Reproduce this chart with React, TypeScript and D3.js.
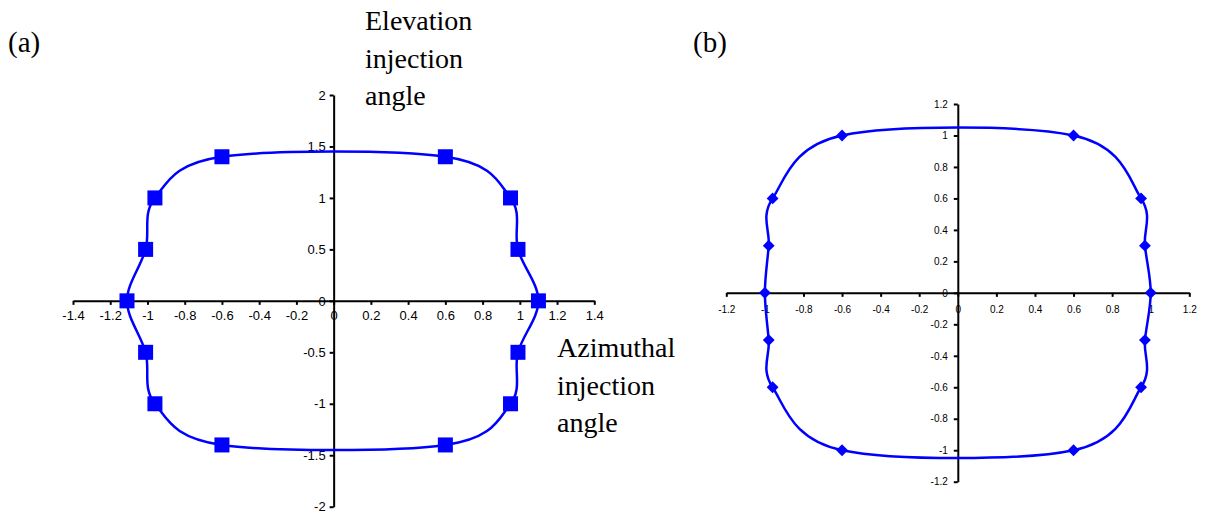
import React, { useEffect, useRef } from "react";
import * as d3 from "d3";

// panel (a): elevation / azimuthal injection angles, square markers
const ticksAx = [-1.4, -1.2, -1, -0.8, -0.6, -0.4, -0.2, 0, 0.2, 0.4, 0.6, 0.8, 1, 1.2, 1.4];
const ticksAy = [-2, -1.5, -1, -0.5, 0, 0.5, 1, 1.5, 2];
const ptsAx = [-0.6, 0.6, 0.95, 0.99, 1.1, 0.99, 0.95, 0.6, -0.6, -0.96, -1.01, -1.11, -1.01, -0.96];
const ptsAy = [1.4, 1.4, 1.0, 0.5, 0, -0.5, -1.0, -1.4, -1.4, -1.0, -0.5, 0, 0.5, 1.0];

// panel (b): diamond markers
const ticksB = [-1.2, -1, -0.8, -0.6, -0.4, -0.2, 0, 0.2, 0.4, 0.6, 0.8, 1, 1.2];
const ptsBx = [-0.6, 0.6, 0.95, 0.97, 1.0, 0.97, 0.95, 0.6, -0.6, -0.96, -0.98, -1.0, -0.98, -0.96];
const ptsBy = [1.0, 1.0, 0.6, 0.3, 0, -0.3, -0.6, -1.0, -1.0, -0.6, -0.3, 0, 0.3, 0.6];

const BLUE = "#0000ff";

function Panel({ xs, ys, xTicks, yTicks, xRange, yRange, fontSize, xPad, yPad, marker }) {
  const xRef = useRef(null);
  const yRef = useRef(null);
  const x = d3.scaleLinear().domain([xTicks[0], xTicks[xTicks.length - 1]]).range(xRange);
  const y = d3.scaleLinear().domain([yTicks[0], yTicks[yTicks.length - 1]]).range(yRange);

  useEffect(() => {
    const fmt = (d) => String(d);
    const gx = d3.select(xRef.current);
    gx.call(d3.axisBottom(x).tickValues(xTicks).tickSize(4).tickSizeOuter(0).tickPadding(xPad).tickFormat(fmt));
    const gy = d3.select(yRef.current);
    gy.call(d3.axisLeft(y).tickValues(yTicks).tickSize(4).tickSizeOuter(0).tickPadding(yPad).tickFormat(fmt));
    [gx, gy].forEach((g) => {
      g.attr("font-family", "'Liberation Sans', Arial, sans-serif").attr("font-size", fontSize);
      g.select(".domain").attr("stroke", "#000").attr("stroke-width", 2);
      g.selectAll(".tick line").attr("stroke", "#000").attr("stroke-width", 2);
      g.selectAll(".tick text").attr("fill", "#000");
    });
  }, []);

  const pts = xs.map((v, i) => [v, ys[i]]);
  const line = d3
    .line()
    .x((d) => x(d[0]))
    .y((d) => y(d[1]))
    .curve(d3.curveCardinalClosed.tension(0));
  const diamond = d3.symbol(d3.symbolSquare, 70)();

  return (
    <g>
      <g ref={xRef} transform={`translate(0,${y(0)})`} />
      <g ref={yRef} transform={`translate(${x(0)},0)`} />
      <path d={line(pts)} fill="none" stroke={BLUE} strokeWidth={2.5} />
      {pts.map((p, i) =>
        marker === "square" ? (
          <rect key={i} x={x(p[0]) - 7.5} y={y(p[1]) - 7.5} width={15} height={15} fill={BLUE} />
        ) : (
          <path key={i} d={diamond} fill={BLUE} transform={`translate(${x(p[0])},${y(p[1])}) rotate(45)`} />
        )
      )}
    </g>
  );
}

export default function App() {
  const serif = "'Liberation Serif', 'Times New Roman', serif";
  return (
    <svg width={1209} height={515} style={{ position: "absolute", left: 0, top: 0, background: "#fff" }}>
      <rect width={1209} height={515} fill="#fff" />
      <Panel
        xs={ptsAx}
        ys={ptsAy}
        xTicks={ticksAx}
        yTicks={ticksAy}
        xRange={[73, 594.3]}
        yRange={[506.7, 95]}
        fontSize={13}
        xPad={6}
        yPad={4}
        marker="square"
      />
      <Panel
        xs={ptsBx}
        ys={ptsBy}
        xTicks={ticksB}
        yTicks={ticksB}
        xRange={[726.3, 1189.3]}
        yRange={[481.7, 104]}
        fontSize={10}
        xPad={9}
        yPad={6}
        marker="diamond"
      />
      <g fontFamily={serif} fontSize={28} fill="#000">
        <text x={8} y={52} fontSize={29}>(a)</text>
        <text x={693} y={52} fontSize={29}>(b)</text>
        <text x={365} y={30}>Elevation</text>
        <text x={365} y={68}>injection</text>
        <text x={365} y={105}>angle</text>
        <text x={557} y={357}>Azimuthal</text>
        <text x={557} y={395}>injection</text>
        <text x={557} y={432}>angle</text>
      </g>
    </svg>
  );
}
